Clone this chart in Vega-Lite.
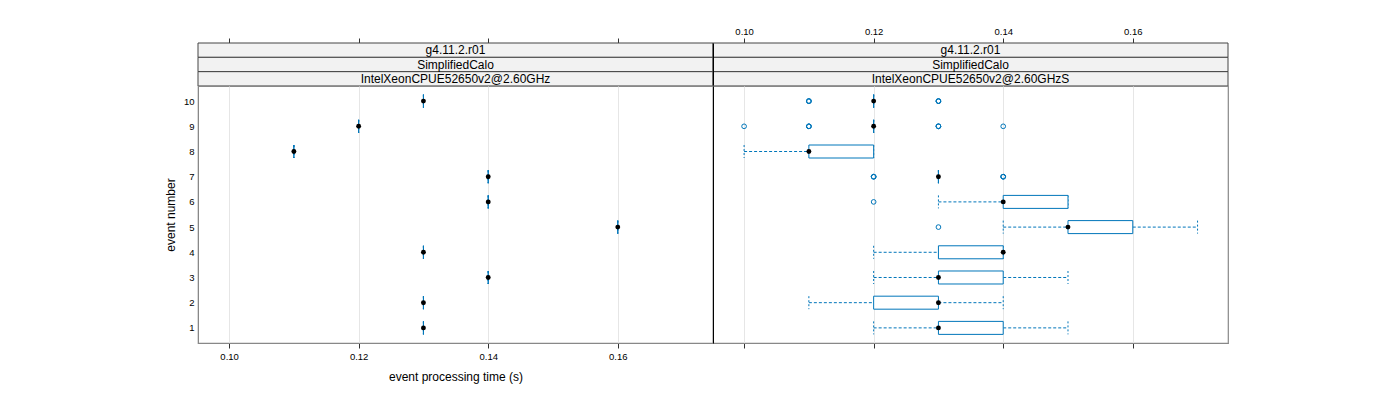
{
  "$schema": "https://vega.github.io/schema/vega-lite/v6.json",
  "padding": {"left": 163, "top": 26, "right": 5, "bottom": 5},
  "background": "white",
  "config": {
    "font": "Liberation Sans",
    "view": {"stroke": "#888", "strokeWidth": 1.2},
    "axis": {"labelFont": "Liberation Sans", "titleFont": "Liberation Sans", "labelColor": "#000", "titleColor": "#000", "tickColor": "#333", "titleFontWeight": "normal"}
  },
  "datasets": {
    "strips": [
      {"panel": "L", "row": 1, "label": "g4.11.2.r01"},
      {"panel": "L", "row": 2, "label": "SimplifiedCalo"},
      {"panel": "L", "row": 3, "label": "IntelXeonCPUE52650v2@2.60GHz"},
      {"panel": "R", "row": 1, "label": "g4.11.2.r01"},
      {"panel": "R", "row": 2, "label": "SimplifiedCalo"},
      {"panel": "R", "row": 3, "label": "IntelXeonCPUE52650v2@2.60GHzS"}
    ],
    "left": [
      {"event": 1, "lo": 0.13, "q1": 0.13, "med": 0.13, "q3": 0.13, "hi": 0.13},
      {"event": 2, "lo": 0.13, "q1": 0.13, "med": 0.13, "q3": 0.13, "hi": 0.13},
      {"event": 3, "lo": 0.14, "q1": 0.14, "med": 0.14, "q3": 0.14, "hi": 0.14},
      {"event": 4, "lo": 0.13, "q1": 0.13, "med": 0.13, "q3": 0.13, "hi": 0.13},
      {"event": 5, "lo": 0.16, "q1": 0.16, "med": 0.16, "q3": 0.16, "hi": 0.16},
      {"event": 6, "lo": 0.14, "q1": 0.14, "med": 0.14, "q3": 0.14, "hi": 0.14},
      {"event": 7, "lo": 0.14, "q1": 0.14, "med": 0.14, "q3": 0.14, "hi": 0.14},
      {"event": 8, "lo": 0.11, "q1": 0.11, "med": 0.11, "q3": 0.11, "hi": 0.11},
      {"event": 9, "lo": 0.12, "q1": 0.12, "med": 0.12, "q3": 0.12, "hi": 0.12},
      {"event": 10, "lo": 0.13, "q1": 0.13, "med": 0.13, "q3": 0.13, "hi": 0.13}
    ],
    "right": [
      {"event": 1, "lo": 0.12, "q1": 0.13, "med": 0.13, "q3": 0.14, "hi": 0.15},
      {"event": 2, "lo": 0.11, "q1": 0.12, "med": 0.13, "q3": 0.13, "hi": 0.14},
      {"event": 3, "lo": 0.12, "q1": 0.13, "med": 0.13, "q3": 0.14, "hi": 0.15},
      {"event": 4, "lo": 0.12, "q1": 0.13, "med": 0.14, "q3": 0.14, "hi": 0.14},
      {"event": 5, "lo": 0.14, "q1": 0.15, "med": 0.15, "q3": 0.16, "hi": 0.17},
      {"event": 6, "lo": 0.13, "q1": 0.14, "med": 0.14, "q3": 0.15, "hi": 0.15},
      {"event": 7, "lo": 0.13, "q1": 0.13, "med": 0.13, "q3": 0.13, "hi": 0.13},
      {"event": 8, "lo": 0.10, "q1": 0.11, "med": 0.11, "q3": 0.12, "hi": 0.12},
      {"event": 9, "lo": 0.12, "q1": 0.12, "med": 0.12, "q3": 0.12, "hi": 0.12},
      {"event": 10, "lo": 0.12, "q1": 0.12, "med": 0.12, "q3": 0.12, "hi": 0.12}
    ],
    "rightOut": [
      {"event": 10, "value": 0.11}, {"event": 10, "value": 0.11}, {"event": 10, "value": 0.11},
      {"event": 10, "value": 0.13}, {"event": 10, "value": 0.13}, {"event": 10, "value": 0.13},
      {"event": 9, "value": 0.10},
      {"event": 9, "value": 0.11}, {"event": 9, "value": 0.11}, {"event": 9, "value": 0.11},
      {"event": 9, "value": 0.13}, {"event": 9, "value": 0.13}, {"event": 9, "value": 0.13},
      {"event": 9, "value": 0.14},
      {"event": 7, "value": 0.12}, {"event": 7, "value": 0.12}, {"event": 7, "value": 0.12},
      {"event": 7, "value": 0.14}, {"event": 7, "value": 0.14}, {"event": 7, "value": 0.14},
      {"event": 6, "value": 0.12},
      {"event": 5, "value": 0.13}
    ]
  },
  "columns": 2,
  "spacing": 0,
  "bounds": "flush",
  "align": "each",
  "concat": [
    {
      "width": 515, "height": 43,
      "view": {"stroke": null},
      "layer": [
        {
          "data": {"name": "strips"},
          "transform": [{"filter": "datum.panel == 'L'"}],
          "mark": {"type": "rect", "fill": "#f2f2f2", "stroke": "#444", "strokeWidth": 1},
          "encoding": {"y": {"field": "row", "type": "ordinal", "scale": {"paddingInner": 0, "paddingOuter": 0}, "axis": null}}
        },
        {
          "data": {"name": "strips"},
          "transform": [{"filter": "datum.panel == 'L'"}],
          "mark": {"type": "text", "fontSize": 12, "color": "#000", "font": "Liberation Sans"},
          "encoding": {"y": {"field": "row", "type": "ordinal", "axis": null}, "text": {"field": "label"}}
        },
        {
          "data": {"name": "left"},
          "mark": {"type": "point", "opacity": 0},
          "encoding": {"x": {"field": "med", "type": "quantitative", "scale": {"domain": [0.0952, 0.1747], "nice": false, "zero": false, "padding": 0}, "axis": {"orient": "top", "values": [0.10, 0.12, 0.14, 0.16], "labels": false, "grid": false, "domain": false, "tickSize": 5, "title": null}}}
        }
      ]
    },
    {
      "width": 515, "height": 43,
      "view": {"stroke": null},
      "layer": [
        {
          "data": {"name": "strips"},
          "transform": [{"filter": "datum.panel == 'R'"}],
          "mark": {"type": "rect", "fill": "#f2f2f2", "stroke": "#444", "strokeWidth": 1},
          "encoding": {"y": {"field": "row", "type": "ordinal", "scale": {"paddingInner": 0, "paddingOuter": 0}, "axis": {"labels": false, "ticks": false, "title": null, "domainColor": "#000", "minExtent": 0, "maxExtent": 0}}}
        },
        {
          "data": {"name": "strips"},
          "transform": [{"filter": "datum.panel == 'R'"}],
          "mark": {"type": "text", "fontSize": 12, "color": "#000", "font": "Liberation Sans"},
          "encoding": {"y": {"field": "row", "type": "ordinal"}, "text": {"field": "label"}}
        },
        {
          "data": {"name": "right"},
          "mark": {"type": "point", "opacity": 0},
          "encoding": {"x": {"field": "med", "type": "quantitative", "scale": {"domain": [0.0952, 0.1747], "nice": false, "zero": false, "padding": 0}, "axis": {"orient": "top", "values": [0.10, 0.12, 0.14, 0.16], "format": ".2f", "labelFontSize": 9.5, "labelPadding": 2, "grid": false, "domain": false, "tickSize": 5, "title": null}}}
        }
      ]
    },
    {
      "width": 515, "height": 257,
      "data": {"name": "left"},
      "encoding": {"y": {"field": "event", "type": "quantitative", "scale": {"domain": [0.4, 10.6], "nice": false, "zero": false, "padding": 0}, "axis": {"values": [1, 2, 3, 4, 5, 6, 7, 8, 9, 10], "ticks": false, "grid": false, "domainColor": "#888", "labelFontSize": 9.5, "labelPadding": 4, "title": "event number", "titleFontSize": 12, "titlePadding": 6}}},
      "layer": [
        {
          "mark": {"type": "rule", "color": "#0076BA", "strokeDash": [3, 2]},
          "encoding": {
            "x": {"field": "lo", "type": "quantitative", "scale": {"domain": [0.0952, 0.1747], "nice": false, "zero": false, "padding": 0}, "axis": {"orient": "bottom", "values": [0.10, 0.12, 0.14, 0.16], "format": ".2f", "grid": true, "gridColor": "#e6e6e6", "domainColor": "#888", "tickSize": 5, "labelFontSize": 9.5, "labelPadding": 3, "title": "event processing time (s)", "titleFontSize": 12, "titlePadding": 11}},
            "x2": {"field": "q1"}
          }
        },
        {
          "mark": {"type": "rule", "color": "#0076BA", "strokeDash": [3, 2]},
          "encoding": {"x": {"field": "q3", "type": "quantitative"}, "x2": {"field": "hi"}}
        },
        {
          "mark": {"type": "rule", "color": "#0076BA", "strokeDash": [2, 2], "yOffset": -6.5, "y2Offset": 6.5},
          "encoding": {"x": {"field": "lo", "type": "quantitative"}, "y2": {"field": "event"}}
        },
        {
          "mark": {"type": "rule", "color": "#0076BA", "strokeDash": [2, 2], "yOffset": -6.5, "y2Offset": 6.5},
          "encoding": {"x": {"field": "hi", "type": "quantitative"}, "y2": {"field": "event"}}
        },
        {
          "mark": {"type": "bar", "orient": "horizontal", "fill": "white", "stroke": "#0076BA", "strokeWidth": 1, "size": 13},
          "encoding": {"x": {"field": "q1", "type": "quantitative"}, "x2": {"field": "q3"}}
        },
        {
          "mark": {"type": "circle", "color": "#000", "size": 24, "opacity": 1},
          "encoding": {"x": {"field": "med", "type": "quantitative"}}
        }
      ]
    },
    {
      "width": 515, "height": 257,
      "data": {"name": "right"},
      "encoding": {"y": {"field": "event", "type": "quantitative", "scale": {"domain": [0.4, 10.6], "nice": false, "zero": false, "padding": 0}, "axis": {"labels": false, "ticks": false, "grid": false, "title": null, "domainColor": "#000", "minExtent": 0, "maxExtent": 0}}},
      "layer": [
        {
          "mark": {"type": "rule", "color": "#0076BA", "strokeDash": [3, 2]},
          "encoding": {
            "x": {"field": "lo", "type": "quantitative", "scale": {"domain": [0.0952, 0.1747], "nice": false, "zero": false, "padding": 0}, "axis": {"orient": "bottom", "values": [0.10, 0.12, 0.14, 0.16], "labels": false, "grid": true, "gridColor": "#e6e6e6", "domainColor": "#888", "tickSize": 5, "title": null}},
            "x2": {"field": "q1"}
          }
        },
        {
          "mark": {"type": "rule", "color": "#0076BA", "strokeDash": [3, 2]},
          "encoding": {"x": {"field": "q3", "type": "quantitative"}, "x2": {"field": "hi"}}
        },
        {
          "mark": {"type": "rule", "color": "#0076BA", "strokeDash": [2, 2], "yOffset": -6.5, "y2Offset": 6.5},
          "encoding": {"x": {"field": "lo", "type": "quantitative"}, "y2": {"field": "event"}}
        },
        {
          "mark": {"type": "rule", "color": "#0076BA", "strokeDash": [2, 2], "yOffset": -6.5, "y2Offset": 6.5},
          "encoding": {"x": {"field": "hi", "type": "quantitative"}, "y2": {"field": "event"}}
        },
        {
          "mark": {"type": "bar", "orient": "horizontal", "fill": "white", "stroke": "#0076BA", "strokeWidth": 1, "size": 13},
          "encoding": {"x": {"field": "q1", "type": "quantitative"}, "x2": {"field": "q3"}}
        },
        {
          "data": {"name": "rightOut"},
          "mark": {"type": "point", "color": "#0076BA", "size": 22, "strokeWidth": 1, "opacity": 1, "filled": false},
          "encoding": {"x": {"field": "value", "type": "quantitative"}}
        },
        {
          "mark": {"type": "circle", "color": "#000", "size": 24, "opacity": 1},
          "encoding": {"x": {"field": "med", "type": "quantitative"}}
        }
      ]
    }
  ]
}
